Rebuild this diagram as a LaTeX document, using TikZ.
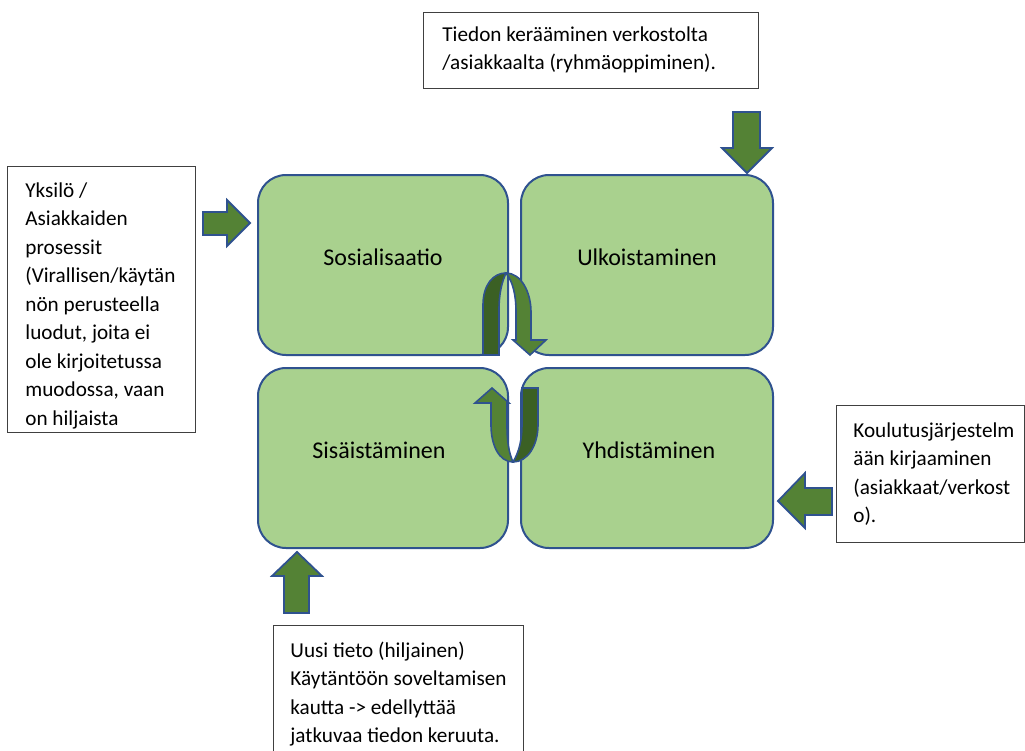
\documentclass[tikz,border=0pt]{standalone}
\usepackage{fontspec}
\setmainfont{Carlito}
\definecolor{boxgreen}{HTML}{A9D18E}
\definecolor{boxblue}{HTML}{2F528F}
\definecolor{arrgreen}{HTML}{548235}
\definecolor{arrdark}{HTML}{3B6024}
\newcommand\bodytext[1]{\parbox[t]{200pt}{\fontsize{10.6}{14.25}\selectfont\raggedright #1}}
\begin{document}
\begin{tikzpicture}[x=0.5pt,y=-0.5pt,
  gbox/.style={draw=boxblue,line width=1pt,fill=boxgreen,rounded corners=14pt,minimum height=90pt,inner sep=0},
  tbox/.style={draw=black!75,line width=0.5pt,fill=white,inner sep=0},
  txt/.style={inner sep=0,anchor=base west},
  lbl/.style={inner sep=0,anchor=base,font=\fontsize{12}{14}\selectfont},
  blockarrow/.style={draw=boxblue,line width=0.9pt,fill=arrgreen,line join=miter},
  darkpart/.style={draw=boxblue,line width=0.8pt,fill=arrdark},
  lightpart/.style={draw=boxblue,line width=0.8pt,fill=arrgreen}]
\useasboundingbox (0,0) rectangle (1025,751);
\fill[white] (0,0) rectangle (1025,751);

% text boxes
\node[tbox,minimum width=167.5pt,minimum height=38pt] (topbox) at (590.5,50) {};
\node[tbox,minimum width=94pt,minimum height=133pt] (leftbox) at (101,299) {};
\node[tbox,minimum width=94pt,minimum height=68.5pt] (rightbox) at (930,473.5) {};
\node[tbox,minimum width=125pt,minimum height=65pt] (bottombox) at (398,690) {};

\node[txt] (toptext) at (442,41) {\bodytext{Tiedon kerääminen verkostolta\\/asiakkaalta (ryhmäoppiminen).}};
\node[txt] (lefttext) at (25,197) {\bodytext{Yksilö /\\Asiakkaiden\\prosessit\\(Virallisen/käytän\\nön perusteella\\luodut, joita ei\\ole kirjoitetussa\\muodossa, vaan\\on hiljaista}};
\node[txt] (righttext) at (853,437) {\bodytext{Koulutusjärjestelm\\ään kirjaaminen\\(asiakkaat/verkost\\o).}};
\node[txt] (bottomtext) at (290,657) {\bodytext{Uusi tieto (hiljainen)\\Käytäntöön soveltamisen\\kautta -> edellyttää\\jatkuvaa tiedon keruuta.}};

% green boxes
\node[gbox,minimum width=125pt] (sos) at (383,265) {};
\node[gbox,minimum width=126pt] (ulk) at (647,265) {};
\node[gbox,minimum width=125pt] (sis) at (383,458) {};
\node[gbox,minimum width=126pt] (yhd) at (647,458) {};
\node[lbl] (soslbl) at (383,265) {Sosialisaatio};
\node[lbl] (ulklbl) at (647,265) {Ulkoistaminen};
\node[lbl] (sislbl) at (379,458) {Sisäistäminen};
\node[lbl] (yhdlbl) at (649,458) {Yhdistäminen};

% block arrows
\draw[blockarrow] (203,212) -- (227,212) -- (227,200) -- (250,223) -- (227,246) -- (227,235) -- (203,235) -- cycle;
\draw[blockarrow] (733,112) -- (760,112) -- (760,148) -- (772,148) -- (747,173) -- (722,148) -- (733,148) -- cycle;
\draw[blockarrow] (297,552) -- (322,576) -- (309,576) -- (309,613) -- (284,613) -- (284,576) -- (272,576) -- cycle;
\draw[blockarrow] (778,501) -- (805,473) -- (805,488) -- (832,488) -- (832,515) -- (805,515) -- (805,528) -- cycle;

% circular arrows (top)
\draw[darkpart] (483,355) -- (483,305) .. controls (483,285) and (493,273) .. (506,273) .. controls (502,282) and (499,293) .. (499,310) -- (499,355) -- cycle;
\draw[lightpart] (506,273) .. controls (521,273) and (531,292) .. (531,312) -- (531,340) -- (546,340) -- (530,355) -- (513,340) -- (516,340) -- (516,312) .. controls (516,295) and (513,282) .. (506,273) -- cycle;
% circular arrows (bottom)
\draw[darkpart] (522,388) -- (538,388) -- (538,425) .. controls (538,445) and (528,462) .. (513,462) .. controls (519,452) and (522,440) .. (522,425) -- cycle;
\draw[lightpart] (513,462) .. controls (499,462) and (491,445) .. (491,425) -- (491,403) -- (475,403) -- (492,388) -- (509,403) -- (507,403) -- (507,425) .. controls (507,442) and (509,453) .. (513,462) -- cycle;
\end{tikzpicture}
\end{document}
